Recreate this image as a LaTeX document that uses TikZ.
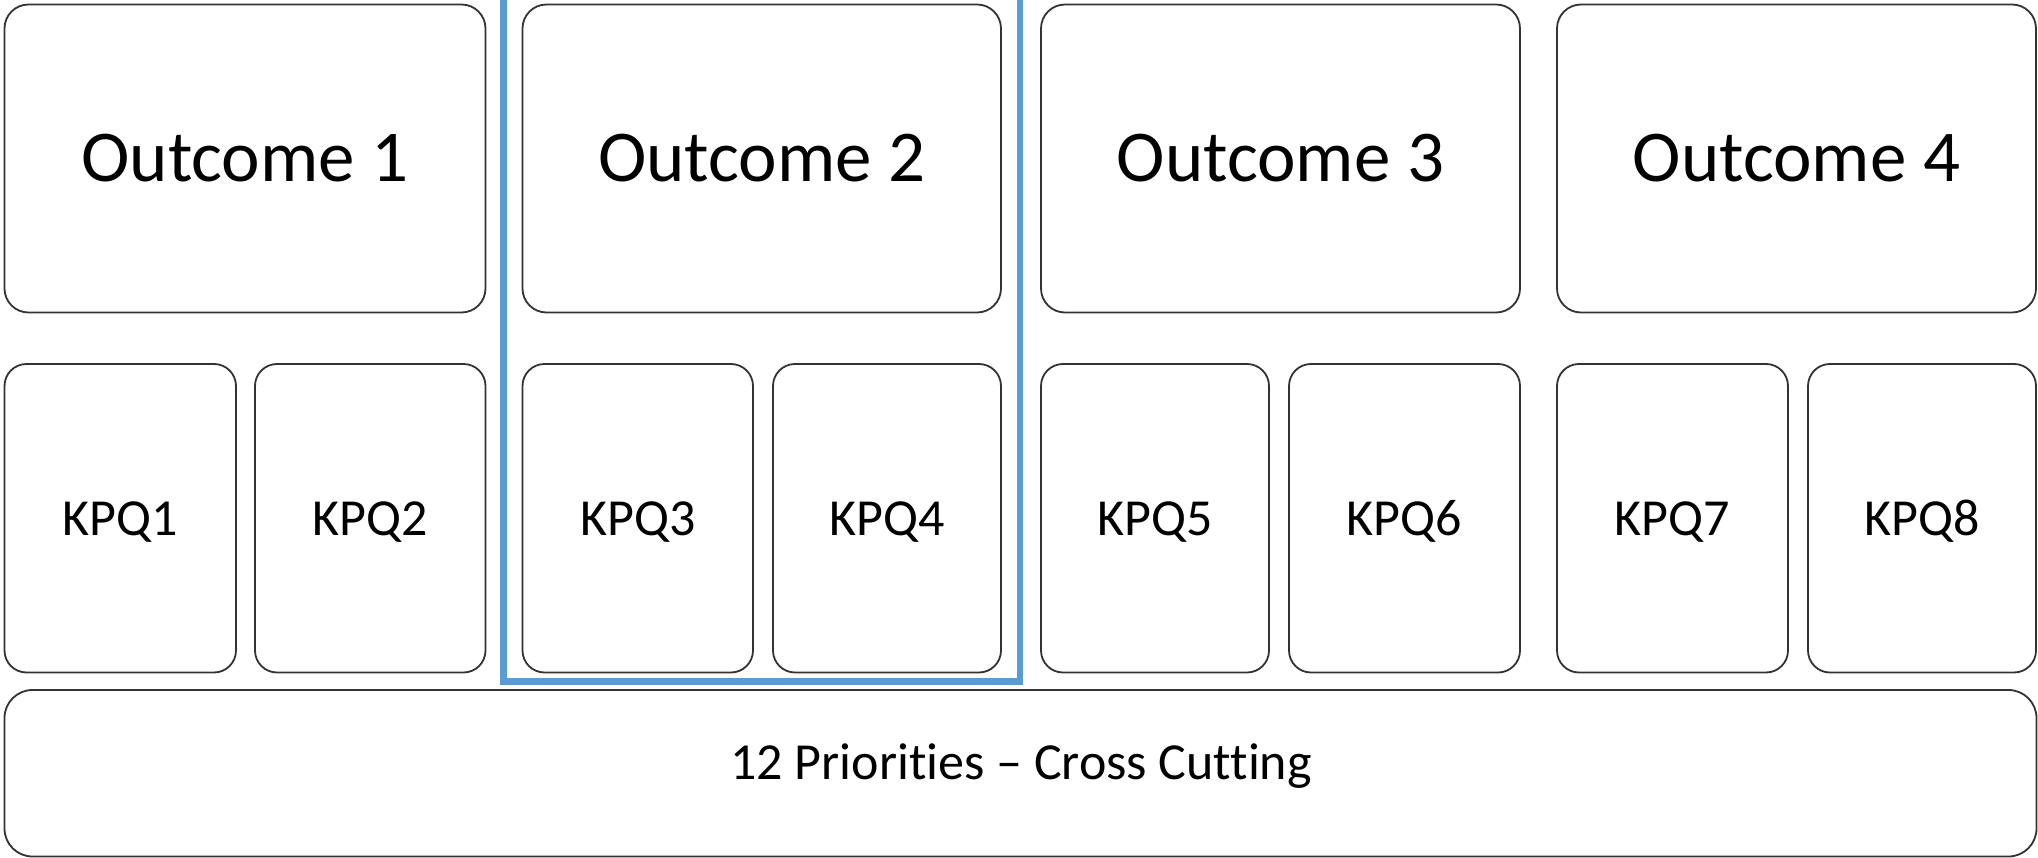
\documentclass[tikz,border=0pt]{standalone}
\usepackage{fontspec}
\setmainfont{Carlito}[Ligatures={NoCommon}]
\definecolor{hlblue}{HTML}{5B9BD5}
\definecolor{edgegray}{HTML}{333333}
\begin{document}
\begin{tikzpicture}[x=1pt,y=-1pt,
  card/.style={draw=edgegray, line width=1.8pt, rounded corners=24pt, inner sep=0pt, fill=white},
  outbox/.style={card, minimum height=308pt, font=\fontsize{73}{80}\selectfont, text height=47pt, text depth=0pt},
  kpqbox/.style={card, rounded corners=22pt, minimum height=308.5pt, font=\fontsize{52}{58}\selectfont, text height=33.5pt, text depth=0pt},
  basebox/.style={card, rounded corners=28pt, minimum width=2032pt, minimum height=166.5pt},
  basetext/.style={inner sep=0pt, font=\fontsize{52}{58}\selectfont, text height=33.5pt, text depth=0pt},
  highlight/.style={draw=hlblue, line width=6.7pt}
]
\useasboundingbox (0,0) rectangle (2038,858);
\clip (0,0) rectangle (2038,858);
\fill[white] (0,0) rectangle (2038,858);

% Outcomes
\node[outbox, minimum width=481pt]   (o1) at (245,158.5)    {Outcome 1};
\node[outbox, minimum width=478.5pt] (o2) at (761.75,158.5) {Outcome 2};
\node[outbox, minimum width=479pt]   (o3) at (1280.5,158.5) {Outcome 3};
\node[outbox, minimum width=479pt]   (o4) at (1796.5,158.5) {Outcome 4};

% KPQs
\node[kpqbox, minimum width=231.5pt] (k1) at (120.25,518.25) {KPQ1};
\node[kpqbox, minimum width=230.5pt] (k2) at (370.25,518.25) {KPQ2};
\node[kpqbox, minimum width=230.5pt] (k3) at (637.75,518.25) {KPQ3};
\node[kpqbox, minimum width=228pt]   (k4) at (887,518.25)    {KPQ4};
\node[kpqbox, minimum width=228pt]   (k5) at (1155,518.25)   {KPQ5};
\node[kpqbox, minimum width=231pt]   (k6) at (1404.5,518.25) {KPQ6};
\node[kpqbox, minimum width=231pt]   (k7) at (1672.5,518.25) {KPQ7};
\node[kpqbox, minimum width=228pt]   (k8) at (1922,518.25)   {KPQ8};

% Cross-cutting base
\node[basebox] (base) at (1020.5,773.25) {};
\node[basetext] (basetxt) at (1021,763) {12 Priorities – Cross Cutting};

% Highlight frame around Outcome 2
\draw[highlight] (503.5,-20) -- (503.5,681.5) -- (1020,681.5) -- (1020,-20);
\end{tikzpicture}
\end{document}
